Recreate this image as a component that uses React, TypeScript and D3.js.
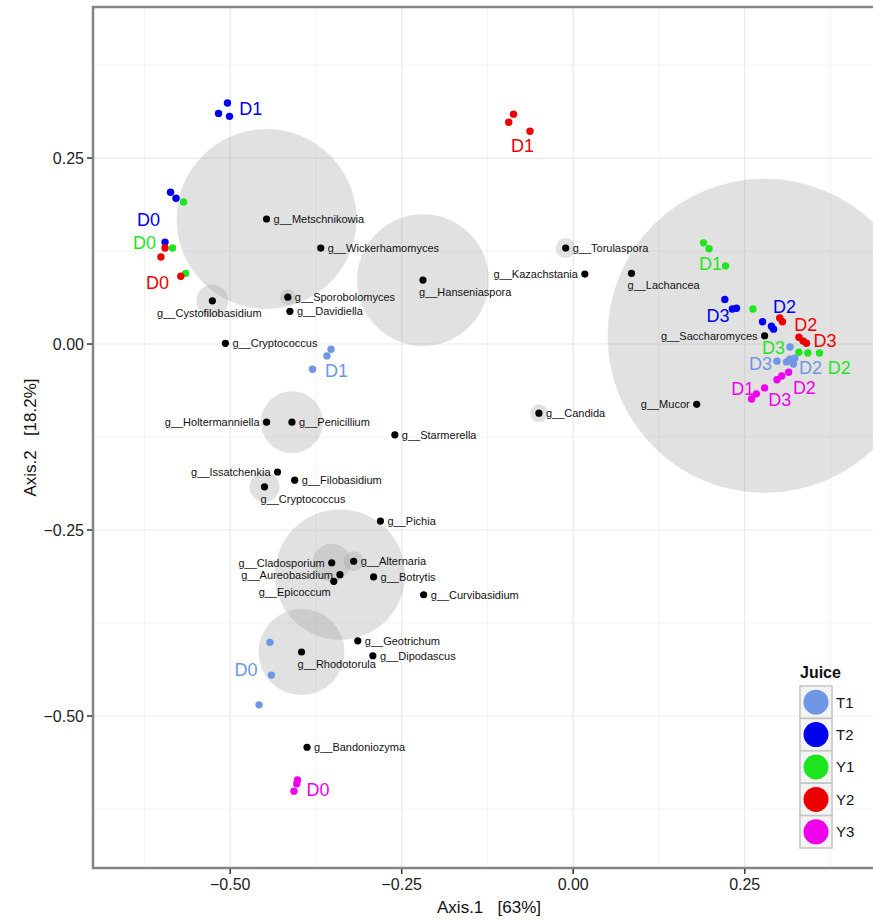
import React from "react";
import * as d3 from "d3";

// Ordination biplot: samples coloured by juice, genera as black dots with
// grey bubbles sized by relative abundance.

const juices = ["T1", "T2", "Y1", "Y2", "Y3"];
const juiceColors = ["#6F97E6", "#0000EE", "#1EE61E", "#EE0000", "#EE00EE"];

const xTicks = [-0.5, -0.25, 0, 0.25];
const yTicks = [-0.5, -0.25, 0, 0.25];
const xTickLabels = ["\u22120.50", "\u22120.25", "0.00", "0.25"];
const yTickLabels = ["\u22120.50", "\u22120.25", "0.00", "0.25"];

// [juice, day, axis1, axis2]
const samples: [string, string, number, number][] = [
  ["T2", "D1", -0.504, 0.324], ["T2", "D1", -0.517, 0.31], ["T2", "D1", -0.501, 0.306],
  ["T2", "D0", -0.587, 0.204], ["T2", "D0", -0.579, 0.196], ["T2", "D0", -0.595, 0.137],
  ["T2", "D3", 0.221, 0.06], ["T2", "D3", 0.232, 0.047], ["T2", "D3", 0.238, 0.048],
  ["T2", "D2", 0.276, 0.03], ["T2", "D2", 0.289, 0.024], ["T2", "D2", 0.292, 0.02],
  ["Y1", "D0", -0.568, 0.191], ["Y1", "D0", -0.584, 0.129], ["Y1", "D0", -0.565, 0.095],
  ["Y1", "D1", 0.19, 0.136], ["Y1", "D1", 0.198, 0.128], ["Y1", "D1", 0.222, 0.105],
  ["Y1", "D3", 0.262, 0.047], ["Y1", "D3", 0.329, -0.011],
  ["Y1", "D2", 0.342, -0.012], ["Y1", "D2", 0.359, -0.012],
  ["Y2", "D0", -0.595, 0.129], ["Y2", "D0", -0.601, 0.117], ["Y2", "D0", -0.572, 0.091],
  ["Y2", "D1", -0.087, 0.309], ["Y2", "D1", -0.094, 0.298], ["Y2", "D1", -0.063, 0.286],
  ["Y2", "D2", 0.301, 0.035], ["Y2", "D2", 0.305, 0.03],
  ["Y2", "D3", 0.329, 0.009], ["Y2", "D3", 0.335, 0.004], ["Y2", "D3", 0.34, 0.001],
  ["T1", "D0", -0.442, -0.401], ["T1", "D0", -0.44, -0.445], ["T1", "D0", -0.458, -0.485],
  ["T1", "D1", -0.353, -0.007], ["T1", "D1", -0.359, -0.016], ["T1", "D1", -0.38, -0.034],
  ["T1", "D3", 0.316, -0.004], ["T1", "D3", 0.297, -0.023], ["T1", "D3", 0.311, -0.024],
  ["T1", "D2", 0.316, -0.02], ["T1", "D2", 0.323, -0.019], ["T1", "D2", 0.321, -0.027],
  ["Y3", "D0", -0.402, -0.586], ["Y3", "D0", -0.403, -0.591], ["Y3", "D0", -0.407, -0.601],
  ["Y3", "D1", 0.26, -0.074], ["Y3", "D1", 0.267, -0.067],
  ["Y3", "D3", 0.279, -0.059],
  ["Y3", "D2", 0.297, -0.048], ["Y3", "D2", 0.304, -0.043], ["Y3", "D2", 0.314, -0.038],
];

// [juice, day, axis1, axis2] of each day label
const dayLabels: [string, string, number, number][] = [
  ["T2", "D1", -0.47, 0.316], ["T2", "D0", -0.619, 0.167], ["Y1", "D0", -0.625, 0.137],
  ["Y2", "D0", -0.606, 0.082], ["Y2", "D1", -0.074, 0.267], ["T1", "D1", -0.345, -0.035],
  ["T1", "D0", -0.477, -0.438], ["Y3", "D0", -0.372, -0.599], ["Y1", "D1", 0.2, 0.108],
  ["T2", "D3", 0.211, 0.038], ["T2", "D2", 0.308, 0.051], ["Y2", "D2", 0.339, 0.026],
  ["Y2", "D3", 0.367, 0.005], ["Y1", "D3", 0.292, -0.005], ["T1", "D3", 0.273, -0.026],
  ["T1", "D2", 0.346, -0.031], ["Y1", "D2", 0.388, -0.031], ["Y3", "D1", 0.247, -0.06],
  ["Y3", "D3", 0.301, -0.074], ["Y3", "D2", 0.337, -0.058],
];

// [genus, axis1, axis2, relative abundance %]
const genera: [string, number, number, number][] = [
  ["g__Metschnikowia", -0.447, 0.168, 16.4],
  ["g__Wickerhamomyces", -0.368, 0.129, 0],
  ["g__Cystofilobasidium", -0.526, 0.058, 0.52],
  ["g__Sporobolomyces", -0.416, 0.063, 0.13],
  ["g__Davidiella", -0.413, 0.044, 0],
  ["g__Cryptococcus", -0.507, 0.001, 0],
  ["g__Hanseniaspora", -0.219, 0.086, 8.8],
  ["g__Kazachstania", 0.017, 0.094, 0],
  ["g__Torulaspora", -0.011, 0.129, 0.2],
  ["g__Lachancea", 0.085, 0.095, 0],
  ["g__Saccharomyces", 0.279, 0.011, 50],
  ["g__Mucor", 0.18, -0.081, 0],
  ["g__Candida", -0.05, -0.093, 0.16],
  ["g__Holtermanniella", -0.447, -0.105, 0],
  ["g__Penicillium", -0.41, -0.105, 1.95],
  ["g__Starmerella", -0.26, -0.122, 0],
  ["g__Issatchenkia", -0.431, -0.172, 0],
  ["g__Filobasidium", -0.406, -0.183, 0],
  ["g__Cryptococcus", -0.45, -0.192, 0.46],
  ["g__Pichia", -0.281, -0.238, 0],
  ["g__Cladosporium", -0.352, -0.294, 0.73],
  ["g__Alternaria", -0.32, -0.292, 0.2],
  ["g__Aureobasidium", -0.34, -0.31, 8.6],
  ["g__Epicoccum", -0.349, -0.319, 0],
  ["g__Botrytis", -0.291, -0.313, 0],
  ["g__Curvibasidium", -0.218, -0.337, 0],
  ["g__Geotrichum", -0.314, -0.399, 0],
  ["g__Dipodascus", -0.292, -0.419, 0],
  ["g__Rhodotorula", -0.396, -0.414, 3.75],
  ["g__Bandoniozyma", -0.388, -0.542, 0],
];

// where each genus name sits relative to its dot: r = right, l = left,
// bs = below (starting at the dot), bc = below centred, be = below (ending at the dot)
const genusLabelSide = [
  "r", "r", "bc", "r", "r", "r", "bs", "l", "r", "bs", "l", "l", "r", "l", "r",
  "r", "l", "r", "bs", "r", "l", "r", "l", "be", "r", "r", "r", "r", "bs", "r",
];

const W = 873;
const H = 922;
const panel = { left: 93, right: 885, top: 7, bottom: 868 };
const font = "'Liberation Sans', Arial, Helvetica, sans-serif";

export default function App() {
  const x = d3.scaleLinear().domain([-0.7, 0.4545]).range([panel.left, panel.right]);
  const y = d3.scaleLinear().domain([-0.7043, 0.453]).range([panel.bottom, panel.top]);
  const r = d3.scaleSqrt().domain([0, 50]).range([0, 157]);
  const color = d3.scaleOrdinal<string, string>().domain(juices).range(juiceColors);

  const inX = (v: number) => v >= x.domain()[0] && v <= x.domain()[1];
  const inY = (v: number) => v >= y.domain()[0] && v <= y.domain()[1];
  const majorX = d3.range(-0.75, 0.5, 0.25).filter(inX);
  const minorX = d3.range(-0.625, 0.5, 0.25).filter(inX);
  const majorY = d3.range(-0.75, 0.5, 0.25).filter(inY);
  const minorY = d3.range(-0.625, 0.5, 0.25).filter(inY);

  return (
    <svg
      width={W}
      height={H}
      style={{ position: "fixed", left: 0, top: 0, background: "#fff" }}
      fontFamily={font}
    >
      <defs>
        <clipPath id="panel-clip">
          <rect x={panel.left} y={panel.top} width={panel.right - panel.left} height={panel.bottom - panel.top} />
        </clipPath>
      </defs>

      {/* grid */}
      <g>
        {minorX.map((v) => (
          <line key={"mx" + v} x1={x(v)} x2={x(v)} y1={panel.top} y2={panel.bottom} stroke="#f3f3f3" strokeWidth={1} />
        ))}
        {minorY.map((v) => (
          <line key={"my" + v} y1={y(v)} y2={y(v)} x1={panel.left} x2={panel.right} stroke="#f3f3f3" strokeWidth={1} />
        ))}
        {majorX.map((v) => (
          <line key={"MX" + v} x1={x(v)} x2={x(v)} y1={panel.top} y2={panel.bottom} stroke="#e9e9e9" strokeWidth={1.2} />
        ))}
        {majorY.map((v) => (
          <line key={"MY" + v} y1={y(v)} y2={y(v)} x1={panel.left} x2={panel.right} stroke="#e9e9e9" strokeWidth={1.2} />
        ))}
      </g>

      {/* abundance bubbles */}
      <g clipPath="url(#panel-clip)">
        {genera
          .filter((g) => g[3] > 0)
          .map((g, i) => (
            <circle key={"b" + i} cx={x(g[1])} cy={y(g[2])} r={r(g[3])} fill="#9a9a9a" fillOpacity={0.3} />
          ))}
      </g>

      {/* samples */}
      <g>
        {samples.map((s, i) => (
          <circle key={"s" + i} cx={x(s[2])} cy={y(s[3])} r={3.7} fill={color(s[0])} />
        ))}
      </g>

      {/* genera */}
      <g>
        {genera.map((g, i) => {
          const px = x(g[1]);
          const py = y(g[2]);
          const side = genusLabelSide[i];
          let tx = px + 7;
          let ty = py;
          let anchor: "start" | "end" | "middle" = "start";
          if (side === "l") {
            tx = px - 7;
            anchor = "end";
          } else if (side === "bs") {
            tx = px - 4;
            ty = py + 12;
          } else if (side === "bc") {
            tx = px - 3;
            ty = py + 12;
            anchor = "middle";
          } else if (side === "be") {
            tx = px - 3;
            ty = py + 11;
            anchor = "end";
          }
          return (
            <g key={"g" + i}>
              <circle cx={px} cy={py} r={3.6} fill="#000" />
              <text x={tx} y={ty} dy="0.35em" fontSize={11} textAnchor={anchor} fill="#111">
                {g[0]}
              </text>
            </g>
          );
        })}
      </g>

      {/* day labels */}
      <g>
        {dayLabels.map((d, i) => (
          <text
            key={"d" + i}
            x={x(d[2])}
            y={y(d[3])}
            dy="0.36em"
            textAnchor="middle"
            fontSize={18}
            fill={color(d[0])}
          >
            {d[1]}
          </text>
        ))}
      </g>

      {/* panel border */}
      <rect
        x={panel.left}
        y={panel.top}
        width={panel.right - panel.left}
        height={panel.bottom - panel.top}
        fill="none"
        stroke="#858585"
        strokeWidth={2.5}
      />

      {/* x axis */}
      <g>
        {xTicks.map((v, i) => (
          <g key={"xt" + i}>
            <line x1={x(v)} x2={x(v)} y1={panel.bottom + 1} y2={panel.bottom + 6} stroke="#333" strokeWidth={1.5} />
            <text x={x(v)} y={panel.bottom + 22} textAnchor="middle" fontSize={16} fill="#222">
              {xTickLabels[i]}
            </text>
          </g>
        ))}
        <text
          x={(panel.left + panel.right) / 2}
          y={913}
          textAnchor="middle"
          fontSize={17}
          fill="#111"
          style={{ whiteSpace: "pre" }}
        >
          {"Axis.1   [63%]"}
        </text>
      </g>

      {/* y axis */}
      <g>
        {yTicks.map((v, i) => (
          <g key={"yt" + i}>
            <line x1={panel.left - 6} x2={panel.left - 1} y1={y(v)} y2={y(v)} stroke="#333" strokeWidth={1.5} />
            <text x={panel.left - 9} y={y(v)} dy="0.35em" textAnchor="end" fontSize={16} fill="#222">
              {yTickLabels[i]}
            </text>
          </g>
        ))}
        <text
          transform={`translate(36, ${(panel.top + panel.bottom) / 2}) rotate(-90)`}
          textAnchor="middle"
          fontSize={17}
          fill="#111"
          style={{ whiteSpace: "pre" }}
        >
          {"Axis.2   [18.2%]"}
        </text>
      </g>

      {/* legend */}
      <g>
        <text x={800} y={678} fontSize={16} fontWeight="bold" fill="#111">
          Juice
        </text>
        {juices.map((j, i) => {
          const top = 686 + i * 32.4;
          return (
            <g key={"l" + j}>
              <rect x={800} y={top} width={32} height={32.4} fill="#f4f4f4" stroke="#c4c4c4" strokeWidth={1.5} />
              <circle cx={816} cy={top + 16.2} r={12.5} fill={juiceColors[i]} />
              <text x={836} y={top + 16.2} dy="0.36em" fontSize={15} fill="#111">
                {j}
              </text>
            </g>
          );
        })}
      </g>
    </svg>
  );
}
